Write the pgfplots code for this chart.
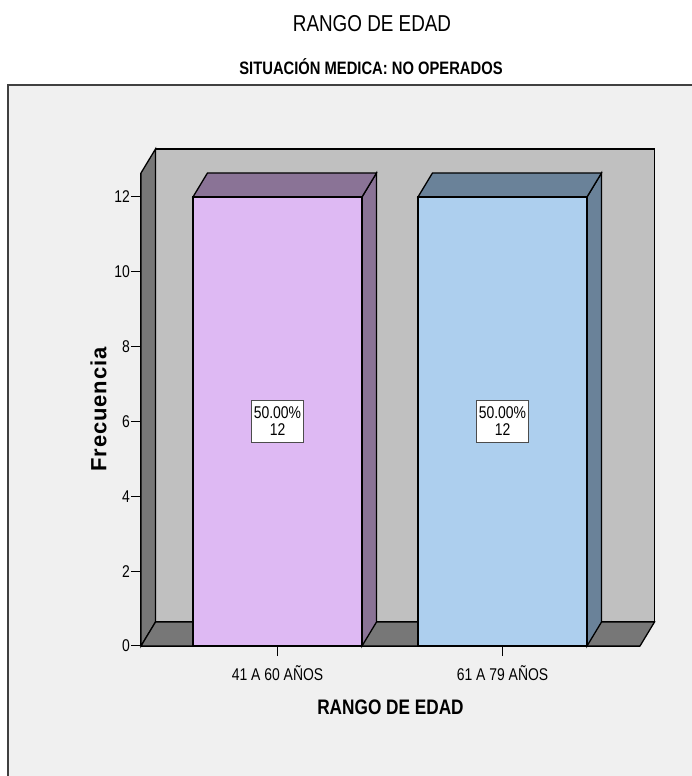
\documentclass[border=0pt]{standalone}
\usepackage{fontspec}
\setmainfont{Liberation Sans}[FakeStretch=0.82]
\newfontfamily\ylabfont{Liberation Sans}[LetterSpace=4]
\usepackage{pgfplots}
\pgfplotsset{compat=1.18}

\definecolor{panelbg}{RGB}{240,240,240}
\definecolor{wallback}{RGB}{192,192,192}
\definecolor{walldark}{RGB}{119,119,119}
\definecolor{lavfront}{RGB}{222,185,243}
\definecolor{lavdark}{RGB}{138,115,150}
\definecolor{bluefront}{RGB}{173,207,238}
\definecolor{bluedark}{RGB}{106,130,153}

\begin{document}
\begin{tikzpicture}[x=1pt,y=1pt]
\useasboundingbox (0,0) rectangle (691,776);
\fill[white] (0,0) rectangle (691,776);
\fill[panelbg] (8,-20) rectangle (760,691);
\draw[black!75, line width=1.2pt] (8,-20) -- (8,691) -- (760,691);

\node[anchor=base, font=\fontsize{23}{26}\selectfont] at (372,744) {RANGO DE EDAD};
\node[anchor=base, font=\bfseries\fontsize{18}{21}\selectfont] at (371,701) {SITUACIÓN MEDICA: NO OPERADOS};

\begin{axis}[
  at={(141pt,130pt)}, anchor=south west,
  scale only axis, width=499pt, height=473pt,
  xmin=-0.6067, xmax=1.6111, ymin=0, ymax=12.64,
  clip=false,
  axis lines*=left,
  axis line style={black, line width=1.3pt},
  tick align=outside, major tick length=10pt,
  tick style={black, line width=1pt},
  xtick={0,1}, xticklabels={41 A 60 AÑOS, 61 A 79 AÑOS},
  ytick={0,2,...,12},
  /pgf/number format/assume math mode=true,
  ticklabel style={font=\fontsize{17}{18}\selectfont},
  yticklabel style={inner sep=1pt},
  xticklabel style={yshift=-6pt},
  xlabel={RANGO DE EDAD},
  xlabel style={at={(axis description cs:0.5,0)}, anchor=base, yshift=-68pt,
    font=\bfseries\fontsize{21}{24}\selectfont},
  ylabel={Frecuencia},
  ylabel style={at={(axis description cs:-0.0852,0.5)}, anchor=center,
    font=\ylabfont\bfseries\fontsize{22}{24}\selectfont},
]
% back wall, side wall and floor
\addplot[fill=wallback, draw=black, line width=1.3pt] coordinates
  {(-0.5423,0.641) (1.6755,0.641) (1.6755,13.281) (-0.5423,13.281)} -- cycle;
\addplot[fill=walldark, draw=black, line width=1.3pt] coordinates
  {(-0.6067,0) (-0.5423,0.641) (-0.5423,13.281) (-0.6067,12.64)} -- cycle;
\addplot[fill=walldark, draw=black, line width=1.3pt] coordinates
  {(-0.6067,0) (1.6111,0) (1.6755,0.641) (-0.5423,0.641)} -- cycle;

% bar 1: 41 A 60 AÑOS = 12
\addplot[fill=lavdark, draw=black, line width=1.3pt] coordinates
  {(0.3756,0) (0.44,0.641) (0.44,12.641) (0.3756,12)} -- cycle;
\addplot[fill=lavdark, draw=black, line width=1.3pt] coordinates
  {(-0.3756,12) (-0.3112,12.641) (0.44,12.641) (0.3756,12)} -- cycle;
\addplot[ybar, bar width=0.7511, fill=lavfront, draw=black, line width=1.3pt]
  coordinates {(0,12)};

% bar 2: 61 A 79 AÑOS = 12
\addplot[fill=bluedark, draw=black, line width=1.3pt] coordinates
  {(1.3756,0) (1.44,0.641) (1.44,12.641) (1.3756,12)} -- cycle;
\addplot[fill=bluedark, draw=black, line width=1.3pt] coordinates
  {(0.6244,12) (0.6888,12.641) (1.44,12.641) (1.3756,12)} -- cycle;
\addplot[ybar, bar width=0.7511, fill=bluefront, draw=black, line width=1.3pt]
  coordinates {(1,12)};

\node[draw=black!70, fill=white, align=center, inner xsep=2.5pt, inner ysep=6.5pt,
  font=\fontsize{17}{17}\selectfont] at (axis cs:0,6) {50.00\%\\12};
\node[draw=black!70, fill=white, align=center, inner xsep=2.5pt, inner ysep=6.5pt,
  font=\fontsize{17}{17}\selectfont] at (axis cs:1,6) {50.00\%\\12};
\end{axis}
\end{tikzpicture}
\end{document}
